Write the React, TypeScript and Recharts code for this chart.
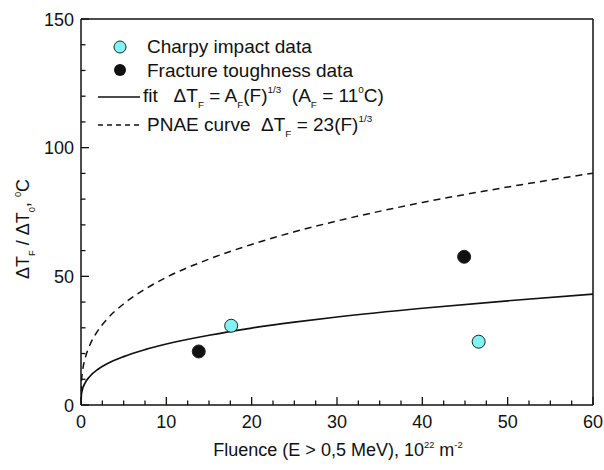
import React from 'react';
import {
  ComposedChart,
  Line,
  Scatter,
  XAxis,
  YAxis,
  ReferenceLine,
  Customized,
} from 'recharts';

// fluence values, 10^22 m^-2
const charpyX = [17.6, 46.6];
const charpyY = [30.8, 24.6];
const fractureX = [13.8, 44.9];
const fractureY = [20.8, 57.6];

// curves
const curveX = [0, 0.05, 0.2, 0.5, 1, 2, 3, 5, 7.5, 10, 15, 20, 25, 30, 40, 50, 60];
const fitY = [0, 4.1, 6.4, 8.7, 11, 13.9, 15.9, 18.8, 21.5, 23.7, 27.1, 29.9, 32.2, 34.2, 37.6, 40.5, 43.1];
const pnaeY = [0, 8.5, 13.5, 18.3, 23, 29, 33.2, 39.3, 45, 49.6, 56.7, 62.4, 67.3, 71.5, 78.7, 84.7, 90.1];

const xTicks = [0, 2.5, 5, 7.5, 10, 12.5, 15, 17.5, 20, 22.5, 25, 27.5, 30, 32.5, 35, 37.5, 40, 42.5, 45, 47.5, 50, 52.5, 55, 57.5, 60];
const yTicks = [0, 10, 20, 30, 40, 50, 60, 70, 80, 90, 100, 110, 120, 130, 140, 150];

const FONT = '"Liberation Sans", Arial, sans-serif';

const toPoints = (xs: number[], ys: number[]) => xs.map((x, i) => ({ x, y: ys[i] }));
const charpyData = toPoints(charpyX, charpyY);
const fractureData = toPoints(fractureX, fractureY);
const fitData = toPoints(curveX, fitY);
const pnaeData = toPoints(curveX, pnaeY);

type Seg = { t: string; s?: 'sub' | 'sup' };

// text with sub/superscripts done by dy shifts
function Rich({ x, y, segs, size, anchor = 'start', transform }: {
  x: number; y: number; segs: Seg[]; size: number; anchor?: string; transform?: string;
}) {
  let cur = 0;
  return (
    <text x={x} y={y} fontSize={size} fontFamily={FONT} textAnchor={anchor} fill="#111"
      transform={transform} style={{ whiteSpace: 'pre' }}>
      {segs.map((s, i) => {
        const off = s.s === 'sub' ? size * 0.32 : s.s === 'sup' ? -size * 0.45 : 0;
        const dy = off - cur;
        cur = off;
        return (
          <tspan key={i} dy={dy} fontSize={s.s ? size * 0.52 : size}>{s.t}</tspan>
        );
      })}
    </text>
  );
}

const XTick = (p: any) => {
  const v = p.payload.value;
  const major = v % 10 === 0;
  return (
    <g>
      <line x1={p.x} x2={p.x} y1={p.y} y2={p.y - (major ? 8 : 4.5)} stroke="#111" strokeWidth={1.3} />
      {major && (
        <text x={p.x} y={p.y + 23} textAnchor="middle" fontSize={18} fontFamily={FONT} fill="#111">{v}</text>
      )}
    </g>
  );
};

const YTick = (p: any) => {
  const v = p.payload.value;
  const major = v % 50 === 0;
  return (
    <g>
      <line x1={p.x} x2={p.x + (major ? 8 : 4.5)} y1={p.y} y2={p.y} stroke="#111" strokeWidth={1.3} />
      {major && (
        <text x={p.x - 7} y={p.y + 6.5} textAnchor="end" fontSize={18} fontFamily={FONT} fill="#111">{v}</text>
      )}
    </g>
  );
};

const Dot = (fill: string) => (p: any) => (
  <circle cx={p.cx} cy={p.cy} r={6.5} fill={fill} stroke="#222" strokeWidth={1} />
);

function Overlay() {
  return (
    <g>
      {/* legend */}
      <circle cx={120} cy={47} r={6} fill="#80f2f2" stroke="#222" strokeWidth={1} />
      <text x={147} y={53} fontSize={19} fontFamily={FONT} fill="#111">Charpy impact data</text>
      <circle cx={120} cy={70} r={6} fill="#111" />
      <text x={147} y={77} fontSize={19} fontFamily={FONT} fill="#111">Fracture toughness data</text>
      <line x1={98} x2={140} y1={97} y2={97} stroke="#111" strokeWidth={1.5} />
      <Rich x={143} y={102} size={19} segs={[
        { t: 'fit   ΔT' }, { t: 'F', s: 'sub' }, { t: ' = A' }, { t: 'F', s: 'sub' }, { t: '(F)' },
        { t: '1/3', s: 'sup' }, { t: '  (A' }, { t: 'F', s: 'sub' }, { t: ' = 11' }, { t: '0', s: 'sup' }, { t: 'C)' },
      ]} />
      <line x1={98} x2={142} y1={125} y2={125} stroke="#111" strokeWidth={1.4} strokeDasharray="5 4" />
      <Rich x={147} y={131} size={19} segs={[
        { t: 'PNAE curve  ΔT' }, { t: 'F', s: 'sub' }, { t: ' = 23(F)' }, { t: '1/3', s: 'sup' },
      ]} />
      {/* axis titles */}
      <Rich x={338} y={456} size={18} anchor="middle" segs={[
        { t: 'Fluence (E > 0,5 MeV), 10' }, { t: '22', s: 'sup' }, { t: ' m' }, { t: '-2', s: 'sup' },
      ]} />
      <Rich x={29} y={229} size={18} anchor="middle" transform="rotate(-90, 29, 229)" segs={[
        { t: 'ΔT' }, { t: 'F', s: 'sub' }, { t: ' / ΔT' }, { t: '0', s: 'sub' }, { t: ', ' }, { t: '0', s: 'sup' }, { t: 'C' },
      ]} />
    </g>
  );
}

export default function App() {
  return (
    <div style={{ width: 604, height: 470, background: '#fff' }}>
      <style>{'body{margin:0}'}</style>
      <ComposedChart width={604} height={470} margin={{ top: 19, right: 11, bottom: 15, left: 0 }}>
        <XAxis type="number" dataKey="x" domain={[0, 60]} ticks={xTicks} interval={0}
          allowDataOverflow height={50} tickSize={0} tickMargin={0} tickLine={false}
          axisLine={{ stroke: '#111', strokeWidth: 1.5 }} tick={XTick} />
        <YAxis type="number" dataKey="y" domain={[0, 150]} ticks={yTicks} interval={0}
          allowDataOverflow width={81} tickSize={0} tickMargin={0} tickLine={false}
          axisLine={{ stroke: '#111', strokeWidth: 1.5 }} tick={YTick} />
        <ReferenceLine y={150} stroke="#111" strokeWidth={1.5} />
        <ReferenceLine x={60} stroke="#111" strokeWidth={1.5} />
        <Line data={pnaeData} dataKey="y" type="monotone" stroke="#111" strokeWidth={1.5}
          strokeDasharray="7 5" dot={false} activeDot={false} isAnimationActive={false} />
        <Line data={fitData} dataKey="y" type="monotone" stroke="#111" strokeWidth={1.7}
          dot={false} activeDot={false} isAnimationActive={false} />
        <Scatter data={charpyData} dataKey="y" shape={Dot('#80f2f2')} isAnimationActive={false} />
        <Scatter data={fractureData} dataKey="y" shape={Dot('#111')} isAnimationActive={false} />
        <Customized component={Overlay} />
      </ComposedChart>
    </div>
  );
}
